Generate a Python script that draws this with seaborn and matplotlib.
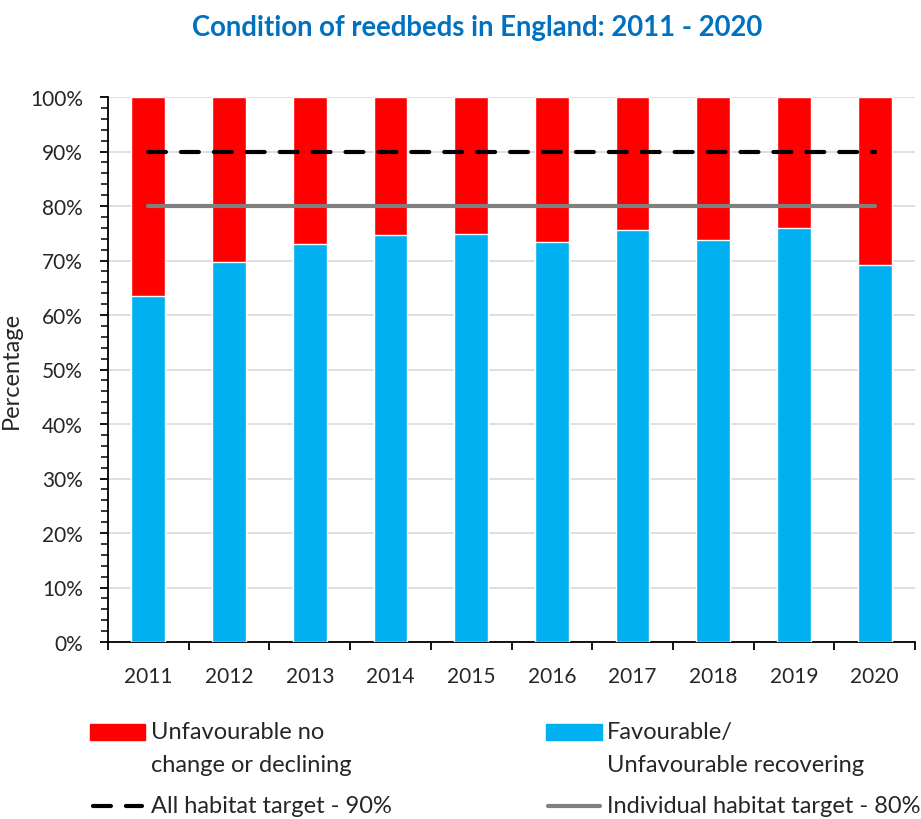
import numpy as np
import pandas as pd
import matplotlib
matplotlib.use("Agg")
import matplotlib.pyplot as plt
import seaborn as sns
from matplotlib.lines import Line2D
from matplotlib.patches import Rectangle
from matplotlib.ticker import MultipleLocator, FixedLocator, NullFormatter, FixedFormatter

years = ["2011", "2012", "2013", "2014", "2015", "2016", "2017", "2018", "2019", "2020"]
favourable = [63.5, 69.7, 73.1, 74.6, 74.8, 73.4, 75.6, 73.7, 76.0, 69.2]
unfavourable = [36.5, 30.3, 26.9, 25.4, 25.2, 26.6, 24.4, 26.3, 24.0, 30.8]
all_target = [90, 90, 90, 90, 90, 90, 90, 90, 90, 90]
individual_target = [80, 80, 80, 80, 80, 80, 80, 80, 80, 80]
yticks = [0, 10, 20, 30, 40, 50, 60, 70, 80, 90, 100]

title = "Condition of reedbeds in England: 2011 - 2020"
lbl_unfav = "Unfavourable no\nchange or declining"
lbl_fav = "Favourable/\nUnfavourable recovering"
lbl_all = "All habitat target - 90%"
lbl_ind = "Individual habitat target - 80%"

RED = "#FF0000"
BLUE = "#00B0F0"
GRAY = "#808080"

sns.set_style("white")
plt.rcParams["font.family"] = ["Lato", "DejaVu Sans"]

df = pd.DataFrame({"year": years, "fav": favourable, "unfav": unfavourable})
df["total"] = df["fav"] + df["unfav"]

fig = plt.figure(figsize=(9.21, 8.20), dpi=100)
ax = fig.add_axes([108 / 921, 1 - 643 / 820, 807 / 921, 545 / 820])

sns.barplot(data=df, x="year", y="total", color=RED, saturation=1, width=0.42, ax=ax, zorder=2)
sns.barplot(data=df, x="year", y="fav", color=BLUE, saturation=1, width=0.42, ax=ax, zorder=3)

xpos = np.arange(len(years))
ax.plot(xpos, individual_target, color=GRAY, lw=3.0, solid_capstyle="round", zorder=4)
ax.plot(xpos, all_target, color="black", lw=3.0, dashes=(4.3, 3.6), dash_capstyle="round", zorder=4)

ax.set_xlim(-0.5, len(years) - 0.5)
ax.set_ylim(0, 100)

ax.set_yticks(yticks)
ax.set_yticklabels([f"{v}%" for v in yticks], fontsize=15)
ax.yaxis.set_minor_locator(MultipleLocator(2))
ax.yaxis.grid(True, which="major", color="#D9D9D9", lw=1.2, zorder=0)
ax.set_axisbelow(True)
ax.tick_params(axis="y", which="major", direction="out", length=6, width=1.3, color="black", pad=12, left=True)
ax.tick_params(axis="y", which="minor", direction="out", length=5, width=1.1, color="black", left=True)

ax.xaxis.set_major_locator(FixedLocator(np.arange(-0.5, len(years), 1.0)))
ax.xaxis.set_major_formatter(NullFormatter())
ax.xaxis.set_minor_locator(FixedLocator(xpos))
ax.xaxis.set_minor_formatter(FixedFormatter(years))
ax.tick_params(axis="x", which="major", direction="out", length=6, width=1.3, color="black", bottom=True)
ax.tick_params(axis="x", which="minor", length=0, pad=17, labelsize=15, bottom=True)
ax.set_xlabel("")
ax.set_ylabel("Percentage", fontsize=17, labelpad=6)

for s in ["top", "right"]:
    ax.spines[s].set_visible(False)
for s in ["left", "bottom"]:
    ax.spines[s].set_color("black")
    ax.spines[s].set_linewidth(1.3)

fig.text(477 / 921, 1 - 28 / 820, title, ha="center", va="center", fontsize=19.8,
         fontweight="bold", color="#0070C0")

def fx(px):
    return px / 921

def fy(py):
    return 1 - py / 820

# legend (manual)
fig.patches.append(Rectangle((fx(90), fy(741)), fx(145) - fx(90), fy(725) - fy(741),
                             transform=fig.transFigure, color=RED))
fig.patches.append(Rectangle((fx(546), fy(741)), fx(602) - fx(546), fy(725) - fy(741),
                             transform=fig.transFigure, color=BLUE))
fig.lines.append(Line2D([fx(93), fx(142)], [fy(807), fy(807)], transform=fig.transFigure,
                        color="black", lw=3.0, dashes=(4.3, 3.6), dash_capstyle="round"))
fig.lines.append(Line2D([fx(548), fx(600)], [fy(807), fy(807)], transform=fig.transFigure,
                        color=GRAY, lw=3.0, solid_capstyle="round"))
fig.text(fx(151), fy(722), lbl_unfav, ha="left", va="top", fontsize=17, linespacing=1.68)
fig.text(fx(607), fy(722), lbl_fav, ha="left", va="top", fontsize=17, linespacing=1.68)
fig.text(fx(151), fy(807), lbl_all, ha="left", va="center", fontsize=17)
fig.text(fx(607), fy(807), lbl_ind, ha="left", va="center", fontsize=17)

fig.savefig("out.png", dpi=100)
